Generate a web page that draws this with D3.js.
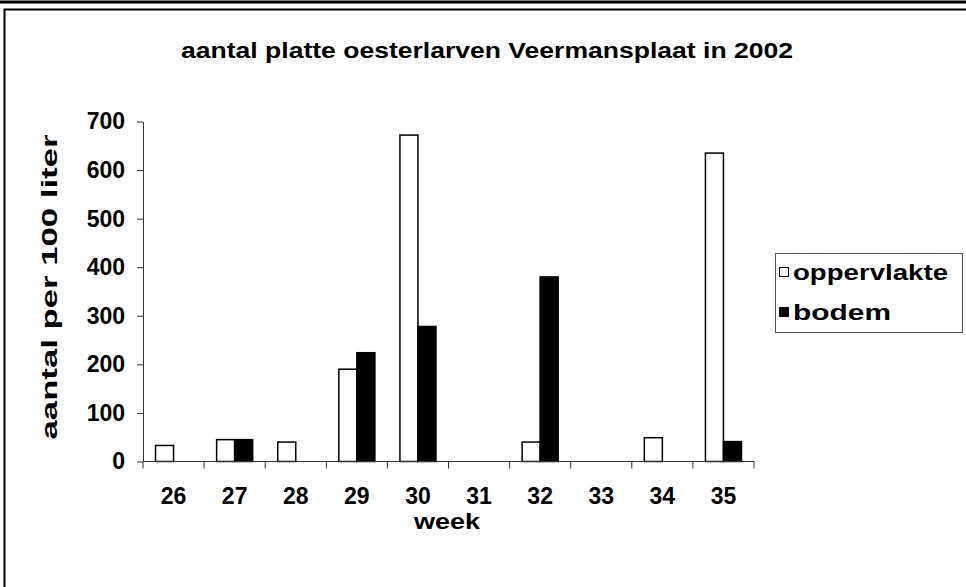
<!DOCTYPE html>
<html>
  <head>
    <title>aantal platte oesterlarven</title>
    <script src="https://d3js.org/d3.v7.min.js"></script>
    <style>
      body { margin: 0; background-color: #ffffff; }
      text { font-family: "Liberation Sans", Arial, sans-serif; font-weight: bold; fill: #000; }
    </style>
  </head>
  <body>
<script>
// data
var weeks = ["26", "27", "28", "29", "30", "31", "32", "33", "34", "35"];
var series = ["oppervlakte", "bodem"];
var oppervlakte = [33, 45, 40, 190, 672, 0, 40, 0, 49, 635];
var bodem = [0, 45, 0, 224, 278, 0, 380, 0, 0, 41];
var yTicks = [0, 100, 200, 300, 400, 500, 600, 700];

var w = 966, h = 587;

var svg = d3.select("body").append("svg")
  .attr("width", w)
  .attr("height", h);

// outer frame
svg.append("line").attr("x1", 0).attr("x2", w).attr("y1", 2).attr("y2", 2)
  .attr("stroke", "#000").attr("stroke-width", 3);
svg.append("path").attr("d", "M4.5," + h + "V9.5H" + w)
  .attr("fill", "none").attr("stroke", "#000").attr("stroke-width", 2);

// scales
var x0 = d3.scaleBand().domain(weeks).range([143, 754])
  .paddingInner(0.41).paddingOuter(0.205);
var x1 = d3.scaleBand().domain(series).range([0, x0.bandwidth()]);
var y = d3.scaleLinear().domain([0, 700]).range([461.5, 121.5]);

var rows = weeks.map(function(wk, i) {
  return { week: wk, values: [
    { key: "oppervlakte", value: oppervlakte[i] },
    { key: "bodem", value: bodem[i] }
  ]};
});

// bars
var groups = svg.append("g").selectAll("g")
  .data(rows).enter().append("g")
  .attr("transform", function(d) { return "translate(" + x0(d.week) + ",0)"; });

groups.selectAll("rect")
  .data(function(d) { return d.values.filter(function(v) { return v.value > 0; }); })
  .enter().append("rect")
  .attr("x", function(d) { return x1(d.key); })
  .attr("y", function(d) { return y(d.value); })
  .attr("width", x1.bandwidth())
  .attr("height", function(d) { return y(0) - y(d.value); })
  .attr("fill", function(d) { return d.key == "bodem" ? "#000" : "#fff"; })
  .attr("stroke", "#000")
  .attr("stroke-width", 1.5);

// y axis
var yAxis = svg.append("g")
  .attr("transform", "translate(143,0)")
  .call(d3.axisLeft(y).tickValues(yTicks).tickSize(6).tickSizeOuter(0).tickPadding(12));
yAxis.selectAll("text").style("font-size", "23px");
yAxis.selectAll("line, path").attr("stroke", "#333");

// x axis: ticks between the categories
var xAxis = svg.append("g").attr("transform", "translate(0," + y(0) + ")");
xAxis.append("line").attr("x1", 143).attr("x2", 754).attr("stroke", "#333");
xAxis.selectAll("line.tick")
  .data(d3.range(weeks.length + 1))
  .enter().append("line")
  .attr("class", "tick")
  .attr("x1", function(i) { return 143 + i * x0.step(); })
  .attr("x2", function(i) { return 143 + i * x0.step(); })
  .attr("y1", 0).attr("y2", 7)
  .attr("stroke", "#333");
xAxis.selectAll("text")
  .data(weeks)
  .enter().append("text")
  .attr("x", function(d) { return x0(d) + x0.bandwidth() / 2; })
  .attr("y", 42)
  .attr("text-anchor", "middle")
  .style("font-size", "23px")
  .text(function(d) { return d; });

// titles
svg.append("text")
  .attr("x", 487).attr("y", 58)
  .attr("text-anchor", "middle")
  .attr("textLength", 612).attr("lengthAdjust", "spacingAndGlyphs")
  .style("font-size", "22px")
  .text("aantal platte oesterlarven Veermansplaat in 2002");

svg.append("text")
  .attr("x", 447).attr("y", 529)
  .attr("text-anchor", "middle")
  .attr("textLength", 66).attr("lengthAdjust", "spacingAndGlyphs")
  .style("font-size", "22px")
  .text("week");

svg.append("text")
  .attr("transform", "translate(57,287) rotate(-90)")
  .attr("text-anchor", "middle")
  .attr("textLength", 305).attr("lengthAdjust", "spacingAndGlyphs")
  .style("font-size", "22px")
  .text("aantal per 100 liter");

// legend
var legend = svg.append("g");
legend.append("rect")
  .attr("x", 775.5).attr("y", 253.5).attr("width", 187).attr("height", 79)
  .attr("fill", "#fff").attr("stroke", "#555");
legend.selectAll("rect.key")
  .data(series).enter().append("rect")
  .attr("class", "key")
  .attr("x", 779.5)
  .attr("y", function(d, i) { return 267.5 + i * 40; })
  .attr("width", 9).attr("height", 9)
  .attr("fill", function(d) { return d == "bodem" ? "#000" : "#fff"; })
  .attr("stroke", "#000");
legend.selectAll("text")
  .data(series).enter().append("text")
  .attr("x", 793)
  .attr("y", function(d, i) { return 280 + i * 40; })
  .attr("textLength", function(d) { return d == "bodem" ? 98 : 155; })
  .attr("lengthAdjust", "spacingAndGlyphs")
  .style("font-size", "22px")
  .text(function(d) { return d; });
</script>
  </body>
</html>
